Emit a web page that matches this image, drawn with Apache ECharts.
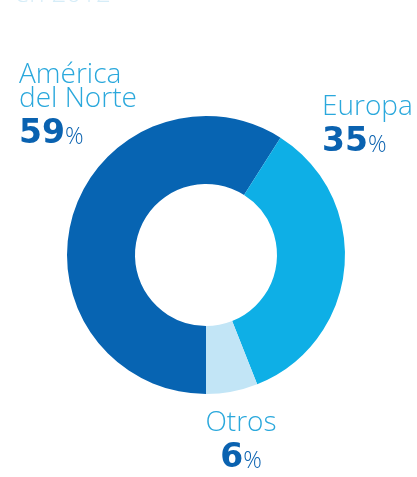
<!DOCTYPE html>
<html>
<head>
<meta charset="utf-8">
<script src="https://cdn.jsdelivr.net/npm/echarts@6/dist/echarts.min.js"></script>
<style>
html,body{margin:0;padding:0;background:#fff;}
#chart{width:417px;height:477px;}
</style>
</head>
<body>
<div id="chart"></div>
<script>
// Data
const regions = ['América\ndel Norte', 'Europa', 'Otros'];
const shares = [59, 35, 6];
const caption = 'en 2012';

// Presentation (kept apart from data)
const sliceColors = ['#0764b2', '#0eafe6', '#c2e5f6'];
const labelAnchors = [
  {x: 19, y: 63, align: 'left'},
  {x: 322, y: 95, align: 'left'},
  {x: 241, y: 411, align: 'center'}
];

const chart = echarts.init(document.getElementById('chart'), null, {renderer: 'canvas'});
chart.setOption({
  animation: false,
  title: {
    text: caption,
    left: 10,
    top: -23,
    textStyle: {color: '#d6edf8', fontSize: 26, fontWeight: 300, fontFamily: 'Open Sans'}
  },
  series: [{
    type: 'pie',
    center: [206, 255],
    radius: [71, 139],
    startAngle: 270,
    clockwise: true,
    avoidLabelOverlap: false,
    labelLine: {show: false},
    emphasis: {disabled: true},
    data: regions.map((n, i) => ({name: n, value: shares[i], itemStyle: {color: sliceColors[i]}})),
    label: {
      show: true,
      position: 'outside',
      formatter: p => '{name|' + p.name + '}\n{val|' + p.value + '}{pct|%}',
      rich: {
        name: {fontFamily: 'Open Sans', fontWeight: 300, fontSize: 28, lineHeight: 24, color: '#2aa8dc'},
        val: {fontFamily: 'DejaVu Sans', fontWeight: 'bold', fontSize: 33, lineHeight: 40, color: '#0a62b0', verticalAlign: 'bottom'},
        pct: {fontFamily: 'Open Sans', fontWeight: 300, fontSize: 23, lineHeight: 40, color: '#0a62b0', verticalAlign: 'bottom', padding: [0, 0, 2, 0]}
      }
    },
    labelLayout: function (params) {
      const a = labelAnchors[params.dataIndex];
      return {x: a.x, y: a.y, align: a.align, verticalAlign: 'top'};
    }
  }]
});
</script>
</body>
</html>
